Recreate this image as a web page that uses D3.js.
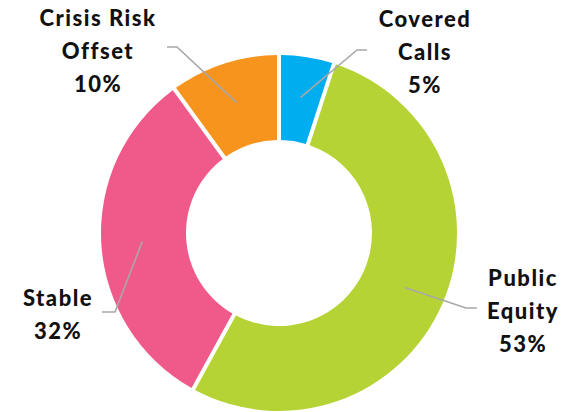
<!DOCTYPE html>
<html>
<head>
<meta charset="utf-8">
<script src="https://cdn.jsdelivr.net/npm/d3@7/dist/d3.min.js"></script>
<style>
  html, body { margin: 0; padding: 0; background: #fff; }
  svg { display: block; }
  text { font-family: Lato, "Open Sans", sans-serif; font-weight: 900; font-size: 22px; letter-spacing: 1.5px; fill: #111; }
</style>
</head>
<body>
<svg id="chart" width="567" height="412"></svg>
<script>
// ---- data ----
const categories = ["Covered Calls", "Public Equity", "Stable", "Crisis Risk Offset"];
const values = [5, 53, 32, 10];
const labelLines = [["Covered", "Calls", "5%"], ["Public", "Equity", "53%"], ["Stable", "32%"], ["Crisis Risk", "Offset", "10%"]];
const colors = ["#00AEEF", "#B5D334", "#F05A8A", "#F7941E"];

// ---- layout (not data) ----
const cx = 279, cy = 233, outerR = 178, innerR = 93, leaderR = 137;
const labelLayout = [
  { x: 425, y: 27, elbow: [357, 50], end: [367, 50] },
  { x: 523, y: 286, elbow: [466, 308], end: [477, 308] },
  { x: 58, y: 306, elbow: [115, 312], end: [102, 312] },
  { x: 98, y: 26, elbow: [177, 47], end: [167, 47] }
];

const svg = d3.select("#chart");
const g = svg.append("g").attr("transform", `translate(${cx},${cy})`);

const pie = d3.pie().sort(null).value(d => d)(values);
const arc = d3.arc().innerRadius(innerR).outerRadius(outerR).padAngle(0.04).padRadius(100);

g.selectAll("path.slice").data(pie).join("path")
  .attr("class", "slice")
  .attr("d", arc)
  .attr("fill", (d, i) => colors[i]);

// leader lines
const leaderArc = d3.arc().innerRadius(leaderR).outerRadius(leaderR);
pie.forEach((d, i) => {
  const [px, py] = leaderArc.centroid(d);
  const L = labelLayout[i];
  svg.append("polyline")
    .attr("points", [[px + cx, py + cy], L.elbow, L.end].map(p => p.join(",")).join(" "))
    .attr("fill", "none")
    .attr("stroke", "#A8A8A8")
    .attr("stroke-width", 1.6);
});

// labels
labelLines.forEach((lines, i) => {
  const L = labelLayout[i];
  const t = svg.append("text").attr("text-anchor", "middle").attr("x", L.x).attr("y", L.y);
  lines.forEach((s, j) => {
    t.append("tspan").attr("x", L.x).attr("dy", j === 0 ? 0 : 33).text(s);
  });
});
</script>
</body>
</html>
